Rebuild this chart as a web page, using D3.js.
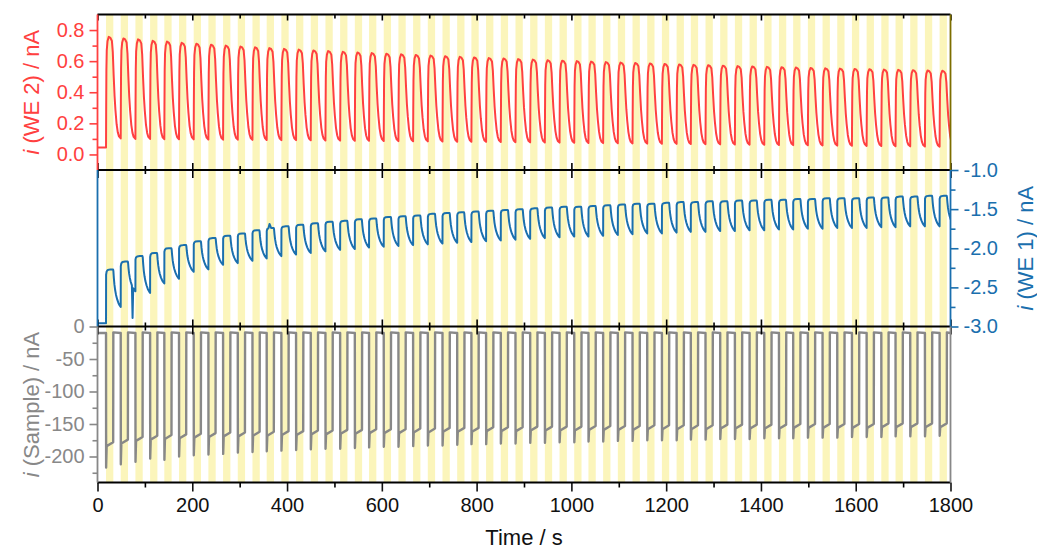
<!DOCTYPE html>
<html>
<head>
<meta charset="utf-8">
<script src="https://cdn.jsdelivr.net/npm/d3@7"></script>
<style>
  html, body { margin: 0; padding: 0; background: #fff; }
  svg { display: block; font-family: "Liberation Sans", Arial, sans-serif; }
</style>
</head>
<body>
<svg id="chart" width="1037" height="548"></svg>
<script>
// ---- illumination periods (s): start of each light-on interval ----
const lightOnStart = [
  18, 49, 80, 111, 141, 172, 203, 234, 265, 296,
  327, 357, 388, 419, 450, 481, 512, 543, 573, 604,
  635, 666, 697, 728, 759, 789, 820, 851, 882, 913,
  944, 975, 1006, 1036, 1067, 1098, 1129, 1160, 1191, 1222,
  1252, 1283, 1314, 1345, 1376, 1407, 1438, 1468, 1499, 1530,
  1561, 1592, 1623, 1654, 1684, 1715, 1746, 1777
];
const lightOnDuration = 15.4;
const lastCycleEnd = 1808;

// ---- axis ticks ----
const timeTicks = [0, 200, 400, 600, 800, 1000, 1200, 1400, 1600, 1800];
const timeMinorTicks = [100, 300, 500, 700, 900, 1100, 1300, 1500, 1700];
const we2Ticks = [0, 0.2, 0.4, 0.6, 0.8];
const we2MinorTicks = [0.1, 0.3, 0.5, 0.7];
const we1Ticks = [-3, -2.5, -2, -1.5, -1];
const we1MinorTicks = [-2.75, -2.25, -1.75, -1.25];
const sampleTicks = [-200, -150, -100, -50, 0];
const sampleMinorTicks = [-225, -175, -125, -75, -25];

// ---- i (WE 2), nA: level before the first pulse, pulse maxima, minima after each pulse ----
const we2Baseline = 0.045;
const we2Peak = [
  0.756, 0.746, 0.740, 0.731, 0.726, 0.718, 0.712, 0.706, 0.700, 0.694,
  0.689, 0.684, 0.679, 0.674, 0.669, 0.665, 0.660, 0.656, 0.652, 0.648,
  0.644, 0.640, 0.636, 0.632, 0.628, 0.624, 0.620, 0.617, 0.613, 0.610,
  0.606, 0.603, 0.600, 0.597, 0.594, 0.591, 0.588, 0.585, 0.582, 0.579,
  0.576, 0.574, 0.571, 0.568, 0.566, 0.563, 0.561, 0.559, 0.556, 0.554,
  0.552, 0.550, 0.548, 0.546, 0.544, 0.542, 0.540, 0.538
];
const we2Trough = [
  0.103, 0.100, 0.100, 0.098, 0.098, 0.097, 0.096, 0.095, 0.095, 0.094,
  0.093, 0.092, 0.092, 0.091, 0.090, 0.089, 0.088, 0.088, 0.087, 0.086,
  0.085, 0.084, 0.083, 0.082, 0.082, 0.081, 0.080, 0.079, 0.078, 0.077,
  0.076, 0.075, 0.074, 0.073, 0.072, 0.071, 0.070, 0.069, 0.068, 0.067,
  0.066, 0.065, 0.064, 0.063, 0.062, 0.061, 0.060, 0.059, 0.058, 0.057,
  0.056, 0.055, 0.054, 0.053, 0.052, 0.051, 0.050, 0.050
];
// pulse profile of WE 2 within one cycle: [phase, fraction of swing]
const we2Shape = [
  [0, 0], [0.01, 0.35], [0.025, 0.7], [0.05, 0.88], [0.1, 0.96], [0.18, 1.0],
  [0.3, 0.99], [0.4, 0.96], [0.46, 0.85], [0.52, 0.62], [0.58, 0.42],
  [0.64, 0.28], [0.72, 0.14], [0.8, 0.06], [0.88, 0.02], [1, 0]
];
const we2Split = 0.18;

// ---- i (WE 1), nA ----
const we1Baseline = -2.96;
const we1High = [
  -2.27, -2.17, -2.10, -2.06, -2.00, -1.96, -1.91, -1.87, -1.84, -1.81,
  -1.77, -1.74, -1.72, -1.70, -1.68, -1.66, -1.65, -1.63, -1.62, -1.60,
  -1.59, -1.58, -1.56, -1.55, -1.54, -1.53, -1.52, -1.51, -1.50, -1.49,
  -1.48, -1.47, -1.47, -1.46, -1.45, -1.44, -1.43, -1.43, -1.42, -1.41,
  -1.41, -1.40, -1.40, -1.39, -1.39, -1.38, -1.38, -1.37, -1.37, -1.36,
  -1.36, -1.36, -1.35, -1.35, -1.34, -1.34, -1.33, -1.33
];
const we1Low = [
  -2.75, -2.55, -2.57, -2.45, -2.39, -2.30, -2.27, -2.21, -2.19, -2.16,
  -2.13, -2.10, -2.08, -2.06, -2.04, -2.02, -2.01, -1.99, -1.98, -1.97,
  -1.96, -1.95, -1.94, -1.93, -1.92, -1.91, -1.90, -1.89, -1.88, -1.87,
  -1.86, -1.85, -1.85, -1.84, -1.83, -1.82, -1.81, -1.81, -1.80, -1.79,
  -1.79, -1.78, -1.78, -1.77, -1.77, -1.76, -1.76, -1.75, -1.75, -1.74,
  -1.74, -1.74, -1.73, -1.73, -1.72, -1.72, -1.72, -1.71
];
const we1Shape = [
  [0, 0], [0.005, 0.9], [0.04, 0.96], [0.12, 0.99], [0.3, 1.0], [0.48, 1.0],
  [0.5, 0.96], [0.53, 0.78], [0.57, 0.6], [0.62, 0.45], [0.68, 0.32],
  [0.76, 0.2], [0.85, 0.1], [0.93, 0.04], [1, 0]
];
const we1Split = 0.48;
// isolated spikes in the WE 1 record: [time, value]
const we1Spikes = [[74, -2.89], [363, -1.69]];

// ---- i (Sample), nA ----
const sampleBaseline = -10;
const sampleSpike = [
  -217, -212, -208, -203, -205, -200, -198, -197, -196, -194,
  -193, -192, -191, -190, -189, -188, -188, -187, -186, -185,
  -185, -184, -183, -183, -182, -181, -181, -180, -180, -179,
  -179, -178, -178, -177, -177, -176, -176, -175, -175, -175,
  -174, -174, -173, -173, -173, -172, -172, -172, -171, -171,
  -171, -170, -170, -170, -169, -169, -169, -168
];
const samplePlateauStart = [
  -184, -180, -176, -174, -173, -172, -171, -170, -169, -169,
  -168, -168, -167, -167, -166, -166, -165, -165, -164, -164,
  -164, -163, -163, -162, -162, -162, -161, -161, -161, -160,
  -160, -160, -160, -159, -159, -159, -159, -158, -158, -158,
  -158, -158, -157, -157, -157, -157, -157, -156, -156, -156,
  -156, -156, -156, -155, -155, -155, -155, -155
];
const samplePlateauEnd = [
  -178, -174, -170, -168, -167, -166, -165, -164, -163, -163,
  -162, -162, -161, -161, -160, -160, -159, -159, -158, -158,
  -158, -157, -157, -156, -156, -156, -155, -155, -155, -154,
  -154, -154, -154, -153, -153, -153, -153, -152, -152, -152,
  -152, -152, -151, -151, -151, -151, -151, -150, -150, -150,
  -150, -150, -150, -149, -149, -149, -149, -149
];

// ---- colours ----
const cRed = "#ff4040", cBlue = "#1a6fae", cGray = "#888888", cOlive = "#7d6e00";
const cStripe = "#fbf5bb";

// ---- layout ----
const plotL = 97.5, plotR = 950.5;
const yTopP = [14.5, 170], yMidP = [170, 326.5], yBotP = [326.5, 482.5];

const x = d3.scaleLinear().domain([0, 1800]).range([plotL, plotR]);
const yWe2 = d3.scaleLinear().domain([-0.1, 0.9]).range([yTopP[1], yTopP[0]]);
const yWe1 = d3.scaleLinear().domain([-3, -1]).range([yMidP[1], yMidP[0]]);
const ySample = d3.scaleLinear().domain([-240, 0]).range([yBotP[1], yBotP[0]]);

const svg = d3.select("#chart");
const defs = svg.append("defs");
[["clipTop", yTopP], ["clipMid", yMidP], ["clipBot", yBotP]].forEach(([id, p]) => {
  defs.append("clipPath").attr("id", id).append("rect")
    .attr("x", plotL).attr("y", p[0]).attr("width", plotR - plotL).attr("height", p[1] - p[0]);
});

// light-on stripes across all panels
svg.append("g").selectAll("rect").data(lightOnStart).join("rect")
  .attr("x", d => x(d))
  .attr("y", yTopP[0])
  .attr("width", d => x(Math.min(d + lightOnDuration, 1800)) - x(d))
  .attr("height", yBotP[1] - yTopP[0])
  .attr("fill", cStripe);

// build a periodic trace from per-cycle levels and a pulse profile
function pulseTrace(base, hi, lo, shape, split) {
  const pts = [[0, base]];
  lightOnStart.forEach((t0, i) => {
    const t1 = i + 1 < lightOnStart.length ? lightOnStart[i + 1] : lastCycleEnd;
    const from = i === 0 ? base : lo[i - 1];
    shape.forEach(([p, f]) => {
      const low = p <= split ? from : lo[i];
      pts.push([t0 + p * (t1 - t0), low + f * (hi[i] - low)]);
    });
  });
  return pts;
}

const we2Pts = pulseTrace(we2Baseline, we2Peak, we2Trough, we2Shape, we2Split);
const we1Pts = pulseTrace(we1Baseline, we1High, we1Low, we1Shape, we1Split)
  .concat(we1Spikes).sort((a, b) => a[0] - b[0]);

const samplePts = [[0, sampleBaseline]];
lightOnStart.forEach((t0, i) => {
  const tOff = t0 + lightOnDuration;
  samplePts.push([t0, sampleBaseline], [t0 + 0.2, sampleSpike[i]], [t0 + 1.3, samplePlateauStart[i]],
    [tOff - 0.3, samplePlateauEnd[i]], [tOff, sampleBaseline + 1]);
});
samplePts.push([1800, sampleBaseline]);

function drawTrace(pts, yScale, color, clip, width) {
  svg.append("path")
    .datum(pts)
    .attr("clip-path", `url(#${clip})`)
    .attr("fill", "none")
    .attr("stroke", color)
    .attr("stroke-width", width)
    .attr("stroke-linejoin", "round")
    .attr("d", d3.line().x(d => x(d[0])).y(d => yScale(d[1])));
}
drawTrace(we2Pts, yWe2, cRed, "clipTop", 2);
drawTrace(we1Pts, yWe1, cBlue, "clipMid", 2);
drawTrace(samplePts, ySample, cGray, "clipBot", 2.4);

// ---- axes ----
const fontSize = 20;
function styleAxis(g, color) {
  g.select(".domain").remove();
  g.selectAll("line").attr("stroke", color).attr("stroke-width", 1.6);
  g.selectAll("text").attr("fill", color).style("font-size", fontSize + "px")
    .style("font-family", '"Liberation Sans", Arial, sans-serif');
}
function addAxis(axis, tx, ty, color) {
  const g = svg.append("g").attr("transform", `translate(${tx},${ty})`).call(axis);
  styleAxis(g, color);
  return g;
}

// time axis: top edge (inward), panel boundaries (both sides), bottom (outward, labelled)
addAxis(d3.axisBottom(x).tickValues(timeTicks).tickSize(6).tickFormat(""), 0, yTopP[0], "#000");
addAxis(d3.axisBottom(x).tickValues(timeMinorTicks).tickSize(4).tickFormat(""), 0, yTopP[0], "#000");
[yTopP[1], yMidP[1]].forEach(yb => {
  addAxis(d3.axisBottom(x).tickValues(timeTicks).tickSize(8).tickFormat(""), 0, yb, "#000");
  addAxis(d3.axisTop(x).tickValues(timeTicks).tickSize(7).tickFormat(""), 0, yb, "#000");
  addAxis(d3.axisBottom(x).tickValues(timeMinorTicks).tickSize(4).tickFormat(""), 0, yb, "#000");
  addAxis(d3.axisTop(x).tickValues(timeMinorTicks).tickSize(4).tickFormat(""), 0, yb, "#000");
});
addAxis(d3.axisBottom(x).tickValues(timeTicks).tickSize(9).tickPadding(6).tickFormat(d => String(d)), 0, yBotP[1], "#111");
addAxis(d3.axisBottom(x).tickValues(timeMinorTicks).tickSize(5).tickFormat(""), 0, yBotP[1], "#000");

// WE 2 (left, top panel)
addAxis(d3.axisLeft(yWe2).tickValues(we2Ticks).tickSize(8).tickPadding(5).tickFormat(d => d.toFixed(1)), plotL, 0, cRed);
addAxis(d3.axisLeft(yWe2).tickValues(we2MinorTicks).tickSize(5).tickFormat(""), plotL, 0, cRed);
// WE 1 (right, middle panel)
addAxis(d3.axisRight(yWe1).tickValues(we1Ticks).tickSize(8).tickPadding(5).tickFormat(d => d.toFixed(1)), plotR, 0, cBlue);
addAxis(d3.axisRight(yWe1).tickValues(we1MinorTicks).tickSize(5).tickFormat(""), plotR, 0, cBlue);
// Sample (left, bottom panel)
addAxis(d3.axisLeft(ySample).tickValues(sampleTicks).tickSize(8).tickPadding(5).tickFormat(d => String(d)), plotL, 0, cGray);
addAxis(d3.axisLeft(ySample).tickValues(sampleMinorTicks).tickSize(5).tickFormat(""), plotL, 0, cGray);

// ---- frame lines ----
const frame = svg.append("g").attr("stroke-width", 1.8).attr("fill", "none");
[yTopP[0], yTopP[1], yMidP[1], yBotP[1]].forEach(yy => {
  frame.append("line").attr("x1", plotL).attr("x2", plotR).attr("y1", yy).attr("y2", yy).attr("stroke", "#000");
});
[[plotL, yTopP, cRed], [plotL, yMidP, cBlue], [plotL, yBotP, cGray],
 [plotR, yTopP, cOlive], [plotR, yMidP, cBlue], [plotR, yBotP, cGray]].forEach(([xx, p, c]) => {
  frame.append("line").attr("x1", xx).attr("x2", xx).attr("y1", p[0]).attr("y2", p[1]).attr("stroke", c);
});

// ---- axis titles ----
const titleSize = 22;
function axisTitle(cx, cy, rot, color, name) {
  const t = svg.append("text")
    .attr("transform", `translate(${cx},${cy}) rotate(${rot})`)
    .attr("text-anchor", "middle")
    .attr("dominant-baseline", "central")
    .attr("fill", color)
    .style("font-size", titleSize + "px");
  if (name) {
    t.append("tspan").style("font-style", "italic").text("i");
    t.append("tspan").text(" (" + name + ") / nA");
  }
  return t;
}
axisTitle(31, (yTopP[0] + yTopP[1]) / 2, -90, cRed, "WE 2");
axisTitle(1025, (yMidP[0] + yMidP[1]) / 2, -90, cBlue, "WE 1");
axisTitle(31, (yBotP[0] + yBotP[1]) / 2, -90, cGray, "Sample");
axisTitle((plotL + plotR) / 2, 537, 0, "#111", null).text("Time / s");
</script>
</body>
</html>
